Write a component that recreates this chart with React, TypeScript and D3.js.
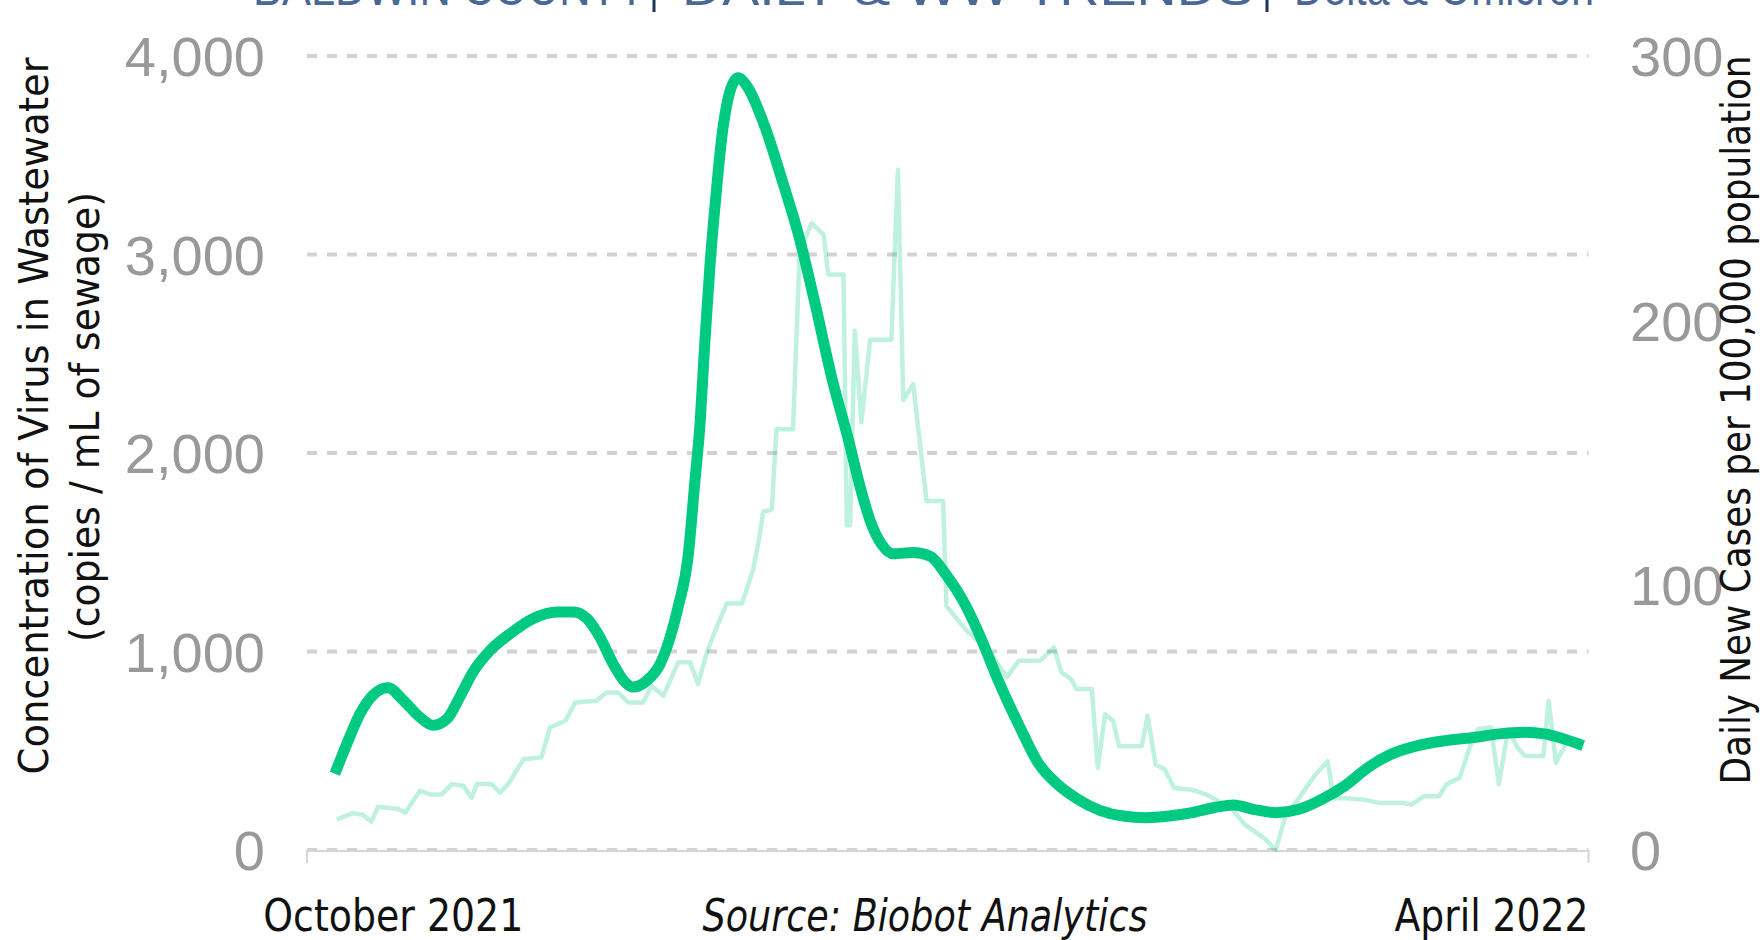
import React from "react";
import * as d3 from "d3";

// days counted from Sep 26, 2021 (left end of the time axis)
const AXIS_START = new Date(2021, 8, 26);
const AXIS_DAYS = 193;

// wastewater concentration (copies / mL), smoothed
const wwDays = [4.2, 6.0, 8.0, 9.9, 12.2, 14.5, 17.0, 19.0, 21.1, 23.0, 25.0, 27.6, 30.6, 34.0, 37.7, 40.1, 42.2, 44.1, 46.1, 47.9, 49.1, 51.2, 53.2, 54.7, 55.9, 57.4, 58.4, 59.2, 59.9, 60.7, 61.6, 62.5, 63.6, 64.9, 66.4, 69.0, 71.5, 74.1, 76.6, 79.1, 81.6, 83.3, 84.8, 86.6, 88.3, 91.3, 93.8, 96.4, 98.8, 101.4, 103.9, 107.2, 110.1, 112.9, 116.0, 119.4, 122.9, 126.4, 129.8, 133.3, 136.7, 139.6, 142.5, 145.9, 149.4, 152.9, 156.3, 159.8, 163.3, 167.3, 171.4, 176.0, 179.5, 183.4, 186.4, 189.3, 192.2];
const wwValues = [384, 535, 687, 779, 817, 754, 669, 628, 661, 770, 896, 1006, 1090, 1165, 1199, 1199, 1165, 1073, 938, 846, 821, 854, 938, 1073, 1224, 1480, 1850, 2150, 2550, 2950, 3300, 3600, 3810, 3890, 3841, 3640, 3380, 3090, 2740, 2370, 2060, 1830, 1661, 1537, 1492, 1499, 1481, 1380, 1256, 1075, 870, 630, 440, 335, 258, 200, 171, 163, 171, 188, 214, 227, 205, 188, 205, 256, 323, 416, 483, 526, 551, 568, 585, 593, 585, 559, 526];

// daily new cases per 100,000
const caseDays = [4.5, 6.9, 8.4, 9.7, 10.7, 13.6, 14.8, 17.0, 18.5, 20.3, 21.8, 23.5, 24.8, 25.6, 27.8, 29.1, 30.3, 32.6, 35.3, 36.6, 38.9, 40.4, 43.6, 45.1, 46.9, 48.4, 50.6, 51.9, 53.7, 55.9, 57.7, 58.9, 60.2, 61.1, 63.2, 65.5, 67.2, 68.2, 68.7, 70.0, 70.7, 73.2, 74.2, 76.0, 77.8, 78.5, 80.8, 81.3, 81.8, 82.5, 83.5, 84.8, 88.0, 89.0, 89.8, 91.3, 93.3, 95.8, 96.3, 99.3, 102.9, 105.4, 107.2, 110.4, 112.5, 113.6, 115.1, 115.9, 118.2, 119.1, 120.2, 121.4, 122.3, 125.7, 126.6, 127.8, 129.2, 130.6, 133.2, 135.5, 137.3, 139.0, 141.3, 144.2, 145.9, 147.4, 149.4, 151.7, 153.7, 154.6, 156.3, 159.2, 161.5, 165.0, 166.4, 168.2, 170.5, 171.6, 173.6, 175.1, 176.3, 178.3, 179.5, 180.9, 182.3, 183.4, 186.2, 187.0, 188.1, 189.6];
const caseValues = [11.6, 13.9, 13.3, 10.7, 16.3, 15.6, 14.1, 22.4, 21, 21, 24.9, 24.3, 19.8, 24.9, 24.9, 21.7, 24.9, 34.3, 35, 46.3, 48.8, 55.7, 56.4, 59.5, 59.5, 55.7, 55.7, 62, 58.3, 70.9, 70.9, 62.7, 74.5, 80.5, 93.1, 93.1, 105.9, 119.3, 127.8, 128.6, 159, 159, 225.8, 236.8, 232.5, 217.4, 217.4, 122.7, 122.7, 196.2, 161.6, 192.8, 192.8, 257, 170, 176, 131.9, 131.9, 92.2, 83, 74.5, 65.3, 71.5, 71.5, 76.6, 67.1, 64.5, 60.8, 60.8, 31, 51.3, 48.8, 39.2, 39.2, 50.7, 32.3, 30.4, 23.4, 22.8, 20.9, 18.4, 16.4, 9.5, 4.4, 0, 13.3, 19.6, 27.9, 33.6, 19.6, 19.6, 19, 17.8, 17.8, 17.2, 20.3, 20.3, 24.8, 27.3, 38.7, 45.6, 46.3, 24.8, 45.6, 38.7, 35.5, 35.5, 56.3, 33, 40];

const leftTicks = [0, 1000, 2000, 3000, 4000];
const rightTicks = [0, 100, 200, 300];
const titleParts = ["BALDWIN COUNTY", "DAILY & WW TRENDS", "Delta & Omicron"];

const W = 1764;
const H = 940;
const GREEN = "#00c982";
const FONT = "'Liberation Sans', Arial, Helvetica, sans-serif";
const NARROW = "'DejaVu Sans Condensed', 'DejaVu Sans', sans-serif";

const toDate = (d: number) => new Date(AXIS_START.getTime() + d * 864e5);

export default function App() {
  const x = d3
    .scaleTime()
    .domain([AXIS_START, toDate(AXIS_DAYS)])
    .range([307, 1588.5]);
  const yL = d3.scaleLinear().domain([0, 4000]).range([850, 56]);
  const yR = d3.scaleLinear().domain([0, 300]).range([850, 56]);

  const ww = wwDays.map((d, i) => ({ date: toDate(d), v: wwValues[i] }));
  const cases = caseDays.map((d, i) => ({ date: toDate(d), v: caseValues[i] }));

  const wwLine = d3
    .line<{ date: Date; v: number }>()
    .x((d) => x(d.date))
    .y((d) => yL(d.v))
    .curve(d3.curveMonotoneX);
  const caseLine = d3
    .line<{ date: Date; v: number }>()
    .x((d) => x(d.date))
    .y((d) => yR(d.v));

  const [x0, x1] = x.range();

  return (
    <svg
      width={W}
      height={H}
      style={{ position: "absolute", left: 0, top: 0, background: "#fff" }}
    >
      {/* title, cut off by the top edge */}
      <g fontFamily={FONT} fontSize={50} fill="#4a6796">
        <text x={253} y={5} textLength={393} lengthAdjust="spacingAndGlyphs">
          {titleParts[0]}
        </text>
        <text x={682} y={5} textLength={572} lengthAdjust="spacingAndGlyphs">
          {titleParts[1]}
        </text>
        <text x={1294} y={5} textLength={300} lengthAdjust="spacingAndGlyphs">
          {titleParts[2]}
        </text>
      </g>
      <line x1={654} x2={654} y1={0} y2={12} stroke="#1d3557" strokeWidth={3} />
      <line x1={1267} x2={1267} y1={0} y2={12} stroke="#1d3557" strokeWidth={3} />

      {/* grid */}
      {leftTicks.map((t) => (
        <line
          key={t}
          x1={x0}
          x2={x1}
          y1={yL(t)}
          y2={yL(t)}
          stroke="#d2d2d2"
          strokeWidth={4}
          strokeDasharray="10 10"
        />
      ))}
      {/* x axis */}
      <path
        d={`M${x0},${yL(0) + 13}V${yL(0) + 1}H${x1}V${yL(0) + 13}`}
        fill="none"
        stroke="#d6d6d6"
        strokeWidth={2}
      />

      {/* left ticks */}
      <g fontFamily={FONT} fontSize={56} fill="#999999" textAnchor="end">
        {leftTicks.map((t) => (
          <text key={t} x={265} y={yL(t) + 20}>
            {d3.format(",")(t)}
          </text>
        ))}
      </g>
      {/* right ticks */}
      <g fontFamily={FONT} fontSize={56} fill="#999999">
        {rightTicks.map((t) => (
          <text key={t} x={1630} y={yR(t) + 20}>
            {t}
          </text>
        ))}
      </g>

      {/* series */}
      <path
        d={caseLine(cases) || ""}
        fill="none"
        stroke={GREEN}
        strokeOpacity={0.25}
        strokeWidth={4.5}
        strokeLinejoin="round"
      />
      <path
        d={wwLine(ww) || ""}
        fill="none"
        stroke={GREEN}
        strokeWidth={11}
        strokeLinejoin="round"
      />

      {/* axis titles */}
      <g fontFamily={NARROW} fontSize={41} fill="#111" textAnchor="middle">
        <text
          transform="translate(48,416) rotate(-90)"
          textLength={717}
          lengthAdjust="spacingAndGlyphs"
        >
          Concentration of Virus in Wastewater
        </text>
        <text
          transform="translate(99,417) rotate(-90)"
          textLength={450}
          lengthAdjust="spacingAndGlyphs"
        >
          (copies / mL of sewage)
        </text>
        <text
          transform="translate(1750,420) rotate(-90)"
          textLength={729}
          lengthAdjust="spacingAndGlyphs"
        >
          Daily New Cases per 100,000 population
        </text>
      </g>

      {/* bottom labels */}
      <g fontFamily={NARROW} fontSize={45} fill="#111">
        <text
          x={x(new Date(2021, 9, 9))}
          y={931}
          textAnchor="middle"
          textLength={260}
          lengthAdjust="spacingAndGlyphs"
        >
          October 2021
        </text>
        <text
          x={925}
          y={931}
          textAnchor="middle"
          fontStyle="italic"
          textLength={445}
          lengthAdjust="spacingAndGlyphs"
        >
          Source: Biobot Analytics
        </text>
        <text
          x={x1}
          y={931}
          textAnchor="end"
          textLength={194}
          lengthAdjust="spacingAndGlyphs"
        >
          April 2022
        </text>
      </g>
    </svg>
  );
}
